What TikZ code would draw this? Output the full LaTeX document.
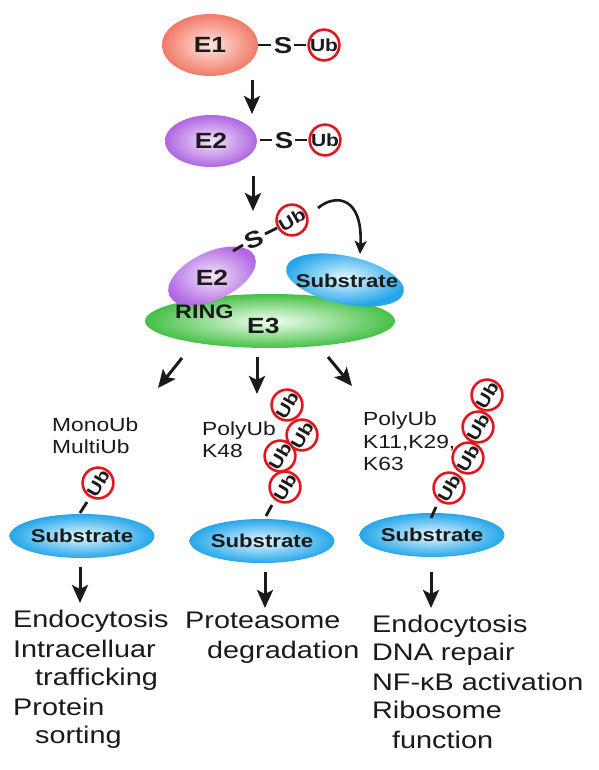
\documentclass[tikz,border=0pt]{standalone}
\usepackage{fontspec}
\newfontfamily\wide{Liberation Sans}[FakeStretch=1.2]
\usetikzlibrary{arrows.meta,shapes.geometric}
\definecolor{ubred}{HTML}{E3161E}
\definecolor{eoneout}{HTML}{F27A68}
\definecolor{eonein}{HTML}{FDE6DE}
\definecolor{etwoout}{HTML}{B066E2}
\definecolor{etwoin}{HTML}{F2E4FA}
\definecolor{subout}{HTML}{26A6EA}
\definecolor{subin}{HTML}{E2F8FF}
\definecolor{ethreeout}{HTML}{46C046}
\definecolor{ethreein}{HTML}{F2FFF2}
\definecolor{ink}{HTML}{1A1A1A}
\newcommand\myfs[1]{\fontsize{#1}{#1}\selectfont}
\tikzset{
  ell/.style={ellipse, inner sep=0pt, draw=none},
  bigb/.style={font=\wide\bfseries\myfs{22}, text=ink},
  subtxt/.style={font=\wide\bfseries\myfs{18.5}, text=ink},
  ub/.style={circle, draw=ubred, line width=2.6pt, fill=white, minimum size=29.5pt, inner sep=0pt, font=\wide\bfseries\myfs{17.5}, text=ink},
  lbl/.style={font=\wide\myfs{19}, anchor=base west, inner sep=0pt, text=ink},
  outtxt/.style={font=\wide\myfs{24}, anchor=base west, inner sep=0pt, text=ink},
  bond/.style={line width=2.8pt, ink},
  stxt/.style={font=\wide\bfseries\myfs{23}, text=ink, inner sep=0pt},
  arr/.style={line width=3pt, ink, -{Stealth[length=18pt,width=16pt,inset=4pt]}},
  carr/.style={line width=2.6pt, ink, -{Stealth[length=13pt,width=12pt,inset=3pt]}}
}
\begin{document}
\begin{tikzpicture}[x=1pt,y=-1pt]
\fill[white] (0,0) rectangle (598,770);
\useasboundingbox (0,0) rectangle (598,770);

% ---- E1 row
\node[ell, minimum width=96pt, minimum height=62pt, inner color=eonein, outer color=eoneout, bigb] (e1) at (210,45) {E1};
\coordinate (e1b1) at (258,45); \coordinate (e1b2) at (271,45);
\node[stxt] (e1s) at (283,46) {S};
\coordinate (e1b3) at (294,45); \coordinate (e1b4) at (306,45);
\node[ub] (ub1) at (324,45) {Ub};
\draw[bond] (e1b1) -- (e1b2);
\draw[bond] (e1b3) -- (e1b4);

\coordinate (a1s) at (252,80); \coordinate (a1e) at (252,114);
\draw[arr] (a1s) -- (a1e);

% ---- E2 row
\node[ell, minimum width=92pt, minimum height=52pt, inner color=etwoin, outer color=etwoout, bigb] (e2) at (211,141) {E2};
\coordinate (e2b1) at (260,140); \coordinate (e2b2) at (272,140);
\node[stxt] (e2s) at (284,141) {S};
\coordinate (e2b3) at (295,140); \coordinate (e2b4) at (307,140);
\node[ub] (ub2) at (325,140) {Ub};
\draw[bond] (e2b1) -- (e2b2);
\draw[bond] (e2b3) -- (e2b4);

\coordinate (a2s) at (253,176); \coordinate (a2e) at (253,211);
\draw[arr] (a2s) -- (a2e);

% ---- complex
\node[ell, minimum width=250pt, minimum height=54pt, inner color=ethreein, outer color=ethreeout] (e3) at (270,321) {};
\node[ell, minimum width=94pt, minimum height=48pt, rotate=25, inner color=etwoin, outer color=etwoout] (e2c) at (212,276) {};
\node[ell, minimum width=120pt, minimum height=48pt, rotate=-12, inner color=subin, outer color=subout] (subc) at (345,280) {};
\node[bigb] (e2ct) at (212,278) {E2};
\node[subtxt] (subct) at (347,281) {Substrate};
\node[font=\wide\bfseries\myfs{19.5}, text=ink, anchor=base west, inner sep=0pt] (ring) at (175,318) {RING};
\node[bigb, anchor=base west, inner sep=0pt] (e3t) at (247,333) {E3};

\coordinate (cb1) at (233,251); \coordinate (cb2) at (243,245);
\node[stxt, rotate=22] (cs) at (254,240) {S};
\coordinate (cb3) at (265,234); \coordinate (cb4) at (277,228);
\draw[bond] (cb1) -- (cb2);
\draw[bond] (cb3) -- (cb4);
\node[ub, rotate=30] (ub3) at (292,220) {Ub};

\coordinate (cas) at (318,208); \coordinate (cae) at (360,254);
\draw[carr] (cas) .. controls (336,193) and (363,197) .. (cae);

% ---- branch arrows
\coordinate (bls) at (182,358); \coordinate (ble) at (158,388);
\coordinate (bms) at (257,357); \coordinate (bme) at (257,394);
\coordinate (brs) at (328,357); \coordinate (bre) at (352,386);
\draw[arr] (bls) -- (ble);
\draw[arr] (bms) -- (bme);
\draw[arr] (brs) -- (bre);

% ---- left branch
\node[lbl] (l1) at (52,431) {MonoUb};
\node[lbl] (l2) at (52,453) {MultiUb};
\node[ell, minimum width=120pt, minimum height=44pt, inner color=subin, outer color=subout, subtxt] (subl) at (82,536) {Substrate};
\node[ub, rotate=60] (ubl) at (98,483) {Ub};
\coordinate (lb1) at (80,513); \coordinate (lb2) at (87,502);
\draw[bond] (lb1) -- (lb2);

% ---- middle branch
\node[lbl] (m1) at (202,435) {PolyUb};
\node[lbl] (m2) at (202,457) {K48};
\node[ell, minimum width=112pt, minimum height=44pt, inner color=subin, outer color=subout, subtxt] (subm) at (262,541) {Substrate};
\node[ub, rotate=60] (ubm4) at (287,405) {Ub};
\node[ub, rotate=60] (ubm3) at (302,435) {Ub};
\node[ub, rotate=60] (ubm2) at (280,456) {Ub};
\node[ub, rotate=60] (ubm1) at (285,487) {Ub};
\coordinate (mb1) at (266,516); \coordinate (mb2) at (272,505);
\draw[bond] (mb1) -- (mb2);

% ---- right branch
\node[lbl] (r1) at (363,425) {PolyUb};
\node[lbl] (r2) at (363,448) {K11,K29,};
\node[lbl] (r3) at (363,470) {K63};
\node[ell, minimum width=120pt, minimum height=44pt, inner color=subin, outer color=subout, subtxt] (subr) at (432,535) {Substrate};
\node[ub, rotate=60] (ubr1) at (449,488) {Ub};
\node[ub, rotate=60] (ubr2) at (468,458) {Ub};
\node[ub, rotate=60] (ubr3) at (478,427) {Ub};
\node[ub, rotate=60] (ubr4) at (487,395) {Ub};
\coordinate (rb1) at (431,518); \coordinate (rb2) at (436,507);
\draw[bond] (rb1) -- (rb2);

% ---- bottom arrows
\coordinate (dls) at (80,567); \coordinate (dle) at (80,603);
\coordinate (dms) at (265,572); \coordinate (dme) at (265,608);
\coordinate (drs) at (431,572); \coordinate (dre) at (431,608);
\draw[arr] (dls) -- (dle);
\draw[arr] (dms) -- (dme);
\draw[arr] (drs) -- (dre);

% ---- outcomes
\node[outtxt] (o1) at (13,627) {Endocytosis};
\node[outtxt] (o2) at (13,657) {Intracelluar};
\node[outtxt] (o3) at (35,685) {trafficking};
\node[outtxt] (o4) at (13,715) {Protein};
\node[outtxt] (o5) at (35,743) {sorting};

\node[outtxt] (p1) at (185,628) {Proteasome};
\node[outtxt] (p2) at (207,658) {degradation};

\node[outtxt] (q1) at (372,632) {Endocytosis};
\node[outtxt] (q2) at (372,660) {DNA repair};
\node[outtxt] (q3) at (372,690) {NF-κB activation};
\node[outtxt] (q4) at (372,718) {Ribosome};
\node[outtxt] (q5) at (392,748) {function};
\end{tikzpicture}
\end{document}
